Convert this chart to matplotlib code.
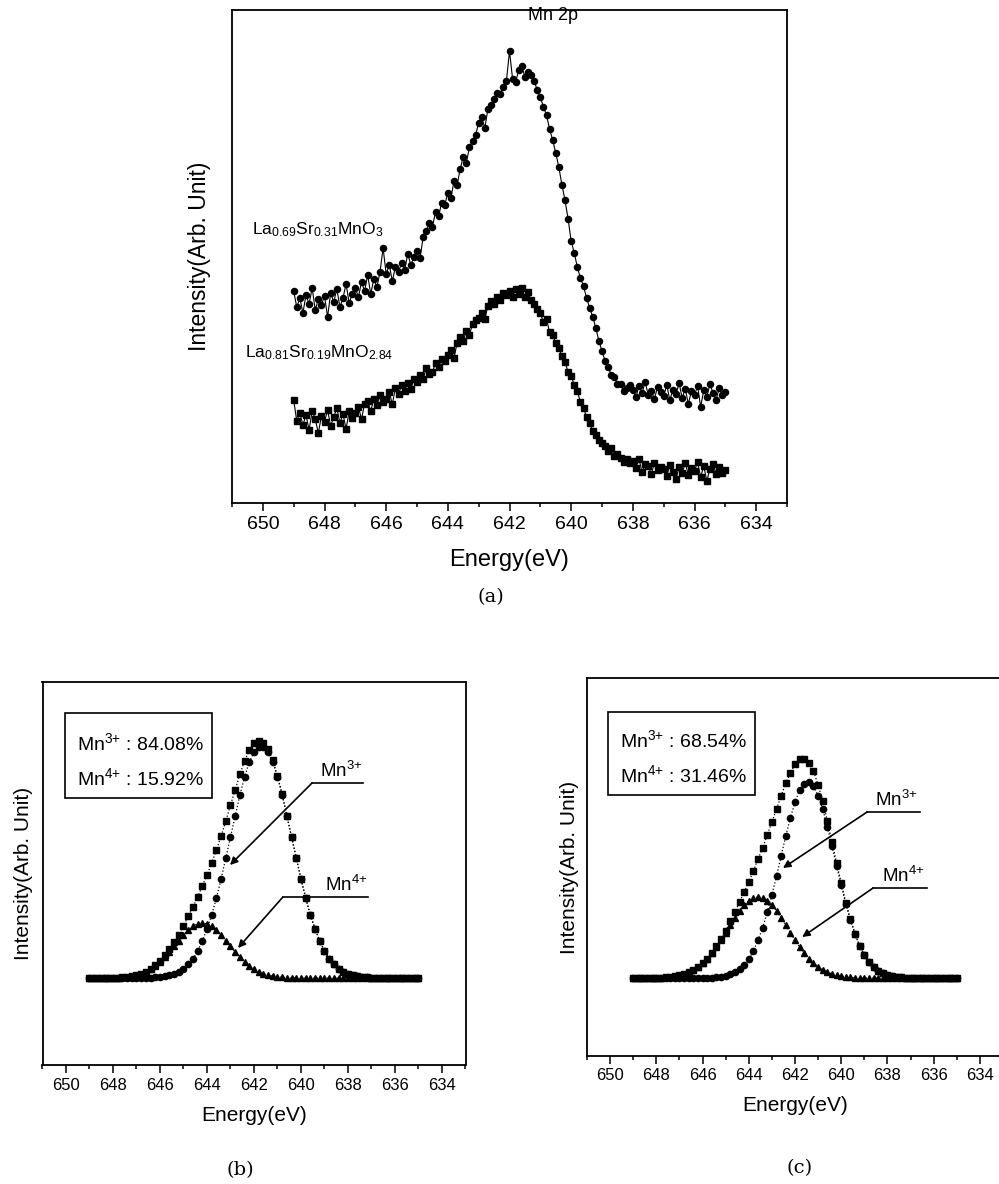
import matplotlib
matplotlib.use("Agg")
import matplotlib.pyplot as plt
from matplotlib.patches import Rectangle
from matplotlib.ticker import MultipleLocator

plt.rcParams['font.family'] = ['Liberation Sans', 'DejaVu Sans']
plt.rcParams['mathtext.fontset'] = 'custom'
plt.rcParams['mathtext.rm'] = 'Liberation Sans'
plt.rcParams['mathtext.it'] = 'Liberation Sans:italic'
plt.rcParams['mathtext.bf'] = 'Liberation Sans:bold'

# (a) measured Mn 2p spectra, 0.1 eV step (intensity in arbitrary units)
energy_a = [
    649.0, 648.9, 648.8, 648.7, 648.6, 648.5, 648.4, 648.3, 648.2, 648.1,
    648.0, 647.9, 647.8, 647.7, 647.6, 647.5, 647.4, 647.3, 647.2, 647.1,
    647.0, 646.9, 646.8, 646.7, 646.6, 646.5, 646.4, 646.3, 646.2, 646.1,
    646.0, 645.9, 645.8, 645.7, 645.6, 645.5, 645.4, 645.3, 645.2, 645.1,
    645.0, 644.9, 644.8, 644.7, 644.6, 644.5, 644.4, 644.3, 644.2, 644.1,
    644.0, 643.9, 643.8, 643.7, 643.6, 643.5, 643.4, 643.3, 643.2, 643.1,
    643.0, 642.9, 642.8, 642.7, 642.6, 642.5, 642.4, 642.3, 642.2, 642.1,
    642.0, 641.9, 641.8, 641.7, 641.6, 641.5, 641.4, 641.3, 641.2, 641.1,
    641.0, 640.9, 640.8, 640.7, 640.6, 640.5, 640.4, 640.3, 640.2, 640.1,
    640.0, 639.9, 639.8, 639.7, 639.6, 639.5, 639.4, 639.3, 639.2, 639.1,
    639.0, 638.9, 638.8, 638.7, 638.6, 638.5, 638.4, 638.3, 638.2, 638.1,
    638.0, 637.9, 637.8, 637.7, 637.6, 637.5, 637.4, 637.3, 637.2, 637.1,
    637.0, 636.9, 636.8, 636.7, 636.6, 636.5, 636.4, 636.3, 636.2, 636.1,
    636.0, 635.9, 635.8, 635.7, 635.6, 635.5, 635.4, 635.3, 635.2, 635.1,
    635.0]
lsmo_031 = [
    212, 196, 205, 190, 208, 199, 215, 193, 204, 198,
    207, 186, 210, 201, 214, 196, 205, 219, 200, 209,
    215, 206, 221, 212, 228, 209, 224, 216, 231, 255,
    229, 238, 222, 236, 231, 240, 233, 249, 238, 246,
    252, 245, 266, 272, 280, 276, 291, 287, 300, 298,
    310, 305, 322, 318, 334, 346, 340, 356, 362, 368,
    380, 386, 375, 394, 398, 404, 410, 409, 416, 422,
    452, 424, 421, 433, 437, 426, 431, 428, 422, 413,
    406, 396, 388, 374, 363, 350, 336, 318, 303, 284,
    262, 250, 236, 225, 217, 205, 195, 186, 175, 162,
    152, 142, 136, 128, 126, 119, 119, 112, 115, 118,
    113, 106, 117, 110, 121, 108, 112, 104, 116, 111,
    107, 118, 103, 113, 109, 120, 105, 114, 99, 112,
    108, 117, 96, 113, 106, 119, 110, 103, 115, 108,
    111]
lsmo_019 = [
    103, 82, 90, 78, 88, 73, 92, 84, 70, 87,
    81, 93, 77, 86, 95, 80, 89, 74, 92, 85,
    90, 96, 84, 99, 102, 92, 104, 98, 108, 101,
    104, 111, 99, 115, 109, 118, 112, 120, 114, 124,
    121, 128, 124, 135, 129, 131, 140, 136, 144, 142,
    148, 153, 145, 160, 166, 162, 172, 168, 179, 183,
    185, 190, 184, 197, 202, 199, 206, 203, 210, 208,
    212, 206, 214, 209, 215, 206, 211, 203, 199, 194,
    190, 181, 184, 171, 168, 160, 155, 147, 141, 131,
    127, 118, 112, 101, 95, 86, 80, 72, 68, 63,
    60, 57, 52, 55, 47, 49, 45, 41, 44, 40,
    42, 35, 44, 31, 39, 37, 29, 40, 33, 36,
    34, 27, 38, 31, 24, 36, 30, 40, 28, 35,
    32, 41, 26, 37, 22, 34, 39, 29, 36, 30,
    33]

# (b), (c) peak deconvolution, 0.2 eV step
energy_fit = [
    649.0, 648.8, 648.6, 648.4, 648.2, 648.0, 647.8, 647.6, 647.4, 647.2,
    647.0, 646.8, 646.6, 646.4, 646.2, 646.0, 645.8, 645.6, 645.4, 645.2,
    645.0, 644.8, 644.6, 644.4, 644.2, 644.0, 643.8, 643.6, 643.4, 643.2,
    643.0, 642.8, 642.6, 642.4, 642.2, 642.0, 641.8, 641.6, 641.4, 641.2,
    641.0, 640.8, 640.6, 640.4, 640.2, 640.0, 639.8, 639.6, 639.4, 639.2,
    639.0, 638.8, 638.6, 638.4, 638.2, 638.0, 637.8, 637.6, 637.4, 637.2,
    637.0, 636.8, 636.6, 636.4, 636.2, 636.0, 635.8, 635.6, 635.4, 635.2,
    635.0]
b_total = [
    87, 87, 87, 87, 87, 87, 87, 88, 88, 89,
    90, 91, 93, 96, 100, 104, 110, 116, 123, 130,
    139, 149, 158, 168, 179, 190, 202, 215, 229, 244,
    260, 275, 291, 304, 315, 322, 324, 322, 316, 305,
    289, 271, 249, 228, 207, 186, 167, 150, 136, 124,
    114, 106, 101, 96, 93, 91, 90, 89, 88, 88,
    87, 87, 87, 87, 87, 87, 87, 87, 87, 87,
    87]
b_mn3 = [
    87, 87, 87, 87, 87, 87, 87, 87, 87, 87,
    87, 87, 87, 87, 88, 88, 89, 90, 91, 93,
    96, 101, 106, 114, 124, 136, 150, 167, 186, 207,
    228, 249, 270, 288, 303, 313, 318, 318, 313, 303,
    288, 270, 249, 228, 207, 186, 167, 150, 136, 124,
    114, 106, 101, 96, 93, 91, 90, 89, 88, 88,
    87, 87, 87, 87, 87, 87, 87, 87, 87, 87,
    87]
b_mn4 = [
    87, 87, 87, 87, 87, 87, 87, 88, 88, 89,
    90, 91, 93, 96, 99, 103, 108, 113, 119, 124,
    130, 135, 139, 141, 142, 141, 139, 135, 130, 124,
    119, 113, 108, 103, 99, 96, 93, 91, 90, 89,
    88, 88, 87, 87, 87, 87, 87, 87, 87, 87,
    87, 87, 87, 87, 87, 87, 87, 87, 87, 87,
    87, 87, 87, 87, 87, 87, 87, 87, 87, 87,
    87]
c_total = [
    78, 78, 78, 78, 78, 78, 78, 79, 79, 80,
    81, 82, 84, 86, 89, 93, 97, 103, 110, 117,
    125, 135, 144, 154, 164, 174, 185, 197, 208, 221,
    234, 247, 260, 273, 283, 292, 297, 297, 293, 285,
    271, 255, 235, 214, 193, 173, 153, 137, 122, 110,
    101, 94, 89, 85, 83, 81, 80, 79, 79, 78,
    78, 78, 78, 78, 78, 78, 78, 78, 78, 78,
    78]
c_mn3 = [
    78, 78, 78, 78, 78, 78, 78, 78, 78, 78,
    78, 78, 78, 78, 78, 78, 78, 78, 79, 79,
    80, 82, 84, 87, 91, 97, 105, 116, 128, 144,
    161, 180, 200, 220, 238, 254, 266, 272, 274, 270,
    260, 247, 229, 210, 190, 171, 152, 136, 122, 110,
    101, 94, 89, 85, 83, 81, 80, 79, 79, 78,
    78, 78, 78, 78, 78, 78, 78, 78, 78, 78,
    78]
c_mn4 = [
    78, 78, 78, 78, 78, 78, 78, 79, 79, 80,
    81, 82, 84, 86, 89, 93, 97, 103, 109, 116,
    123, 131, 138, 145, 151, 155, 158, 159, 158, 155,
    151, 145, 138, 131, 123, 116, 109, 103, 97, 93,
    89, 86, 84, 82, 81, 80, 79, 79, 78, 78,
    78, 78, 78, 78, 78, 78, 78, 78, 78, 78,
    78, 78, 78, 78, 78, 78, 78, 78, 78, 78,
    78]

ratio_b = ['84.08%', '15.92%']
ratio_c = ['68.54%', '31.46%']

W, H = 999, 1184


def add_axes_px(fig, left, top, right, bottom):
    return fig.add_axes([left / W, 1 - bottom / H, (right - left) / W, (bottom - top) / H])


def style(ax, ytop, tick_fs):
    ax.set_xlim(651, 633)
    ax.set_ylim(0, ytop)
    ax.xaxis.set_major_locator(MultipleLocator(2))
    ax.xaxis.set_minor_locator(MultipleLocator(1))
    ax.set_yticks([])
    ax.tick_params(axis='x', which='major', direction='out', length=6, width=1.1,
                   labelsize=tick_fs, pad=3)
    ax.tick_params(axis='x', which='minor', direction='out', length=3, width=1.1)
    for s in ax.spines.values():
        s.set_linewidth(1.3)


def pointer(ax, label, tip, elbow, end_x, text_x):
    ax.plot([elbow[0], end_x], [elbow[1], elbow[1]], color='black', lw=1.2)
    ax.annotate('', xy=tip, xytext=elbow,
                arrowprops=dict(arrowstyle='-|>', color='black', lw=1.2,
                                mutation_scale=11, shrinkA=0, shrinkB=0))
    ax.text(text_x, elbow[1] + 2, label, ha='left', va='bottom', fontsize=13.5)


def ratio_box(ax, x0, x1, y0, y1, tx, ty, ratios):
    ax.add_patch(Rectangle((x1, y0), x0 - x1, y1 - y0, fill=False,
                           edgecolor='black', lw=1.2))
    ax.text(tx, ty[0], r'Mn$^{3{+}}$ : ' + ratios[0], ha='left', va='center', fontsize=14)
    ax.text(tx, ty[1], r'Mn$^{4{+}}$ : ' + ratios[1], ha='left', va='center', fontsize=14)


def fit_panel(ax, total, mn3, mn4):
    ax.plot(energy_fit, mn3, ls=':', lw=0.9, color='black', marker='o', ms=4.5)
    ax.plot(energy_fit, mn4, ls=':', lw=0.9, color='black', marker='^', ms=3.8)
    ax.plot(energy_fit, total, ls=':', lw=0.9, color='black', marker='s', ms=4.2)


fig = plt.figure(figsize=(W / 100, H / 100), dpi=100)

# ---- (a)
ax_a = add_axes_px(fig, 232, 10, 787, 503)
ax_a.plot(energy_a, lsmo_031, color='black', lw=0.8, marker='o', ms=4.4)
ax_a.plot(energy_a, lsmo_019, color='black', lw=0.8, marker='s', ms=3.9)
style(ax_a, 493, 14)
ax_a.set_xlabel('Energy(eV)', fontsize=17, va='center')
ax_a.xaxis.set_label_coords(0.5, -0.116)
ax_a.set_ylabel('Intensity(Arb. Unit)', fontsize=16.5, va='center')
ax_a.yaxis.set_label_coords(-0.058, 0.5)
ax_a.text(641.4, 488, 'Mn 2p', fontsize=13, ha='left', va='center')
ax_a.text(650.35, 273, r'La$_{0.69}$Sr$_{0.31}$MnO$_3$', fontsize=12.5, ha='left', va='center')
ax_a.text(650.58, 150, r'La$_{0.81}$Sr$_{0.19}$MnO$_{2.84}$', fontsize=12.5, ha='left', va='center')

# ---- (b)
ax_b = add_axes_px(fig, 42.5, 682, 465.5, 1065)
fit_panel(ax_b, b_total, b_mn3, b_mn4)
style(ax_b, 383, 12)
ax_b.set_xlabel('Energy(eV)', fontsize=15, va='center')
ax_b.xaxis.set_label_coords(0.5, -0.131)
ax_b.set_ylabel('Intensity(Arb. Unit)', fontsize=15, va='center')
ax_b.yaxis.set_label_coords(-0.046, 0.5)
ratio_box(ax_b, 650.04, 643.79, 267, 352, 649.53, (322, 287), ratio_b)
pointer(ax_b, r'Mn$^{3{+}}$', (643.02, 200), (639.53, 282), 637.36, 639.19)
pointer(ax_b, r'Mn$^{4{+}}$', (642.68, 117), (640.77, 168), 637.15, 638.98)

# ---- (c)
ax_c = add_axes_px(fig, 587, 678, 1003, 1056)
fit_panel(ax_c, c_total, c_mn3, c_mn4)
style(ax_c, 378, 12)
ax_c.set_xlabel('Energy(eV)', fontsize=15, va='center')
ax_c.xaxis.set_label_coords(0.5, -0.130)
ax_c.set_ylabel('Intensity(Arb. Unit)', fontsize=15, va='center')
ax_c.yaxis.set_label_coords(-0.041, 0.5)
ratio_box(ax_c, 650.09, 643.73, 261, 344, 649.57, (316, 281), ratio_c)
pointer(ax_c, r'Mn$^{3{+}}$', (642.52, 188), (638.88, 244), 636.58, 638.53)
pointer(ax_c, r'Mn$^{4{+}}$', (641.69, 119), (638.62, 168), 636.28, 638.23)

# captions
for txt, x, y in [('(a)', 491, 597), ('(b)', 240, 1170), ('(c)', 800, 1168)]:
    fig.text(x / W, 1 - y / H, txt, family='DejaVu Serif', fontsize=14,
             ha='center', va='center')

fig.savefig('out.png', dpi=100)
